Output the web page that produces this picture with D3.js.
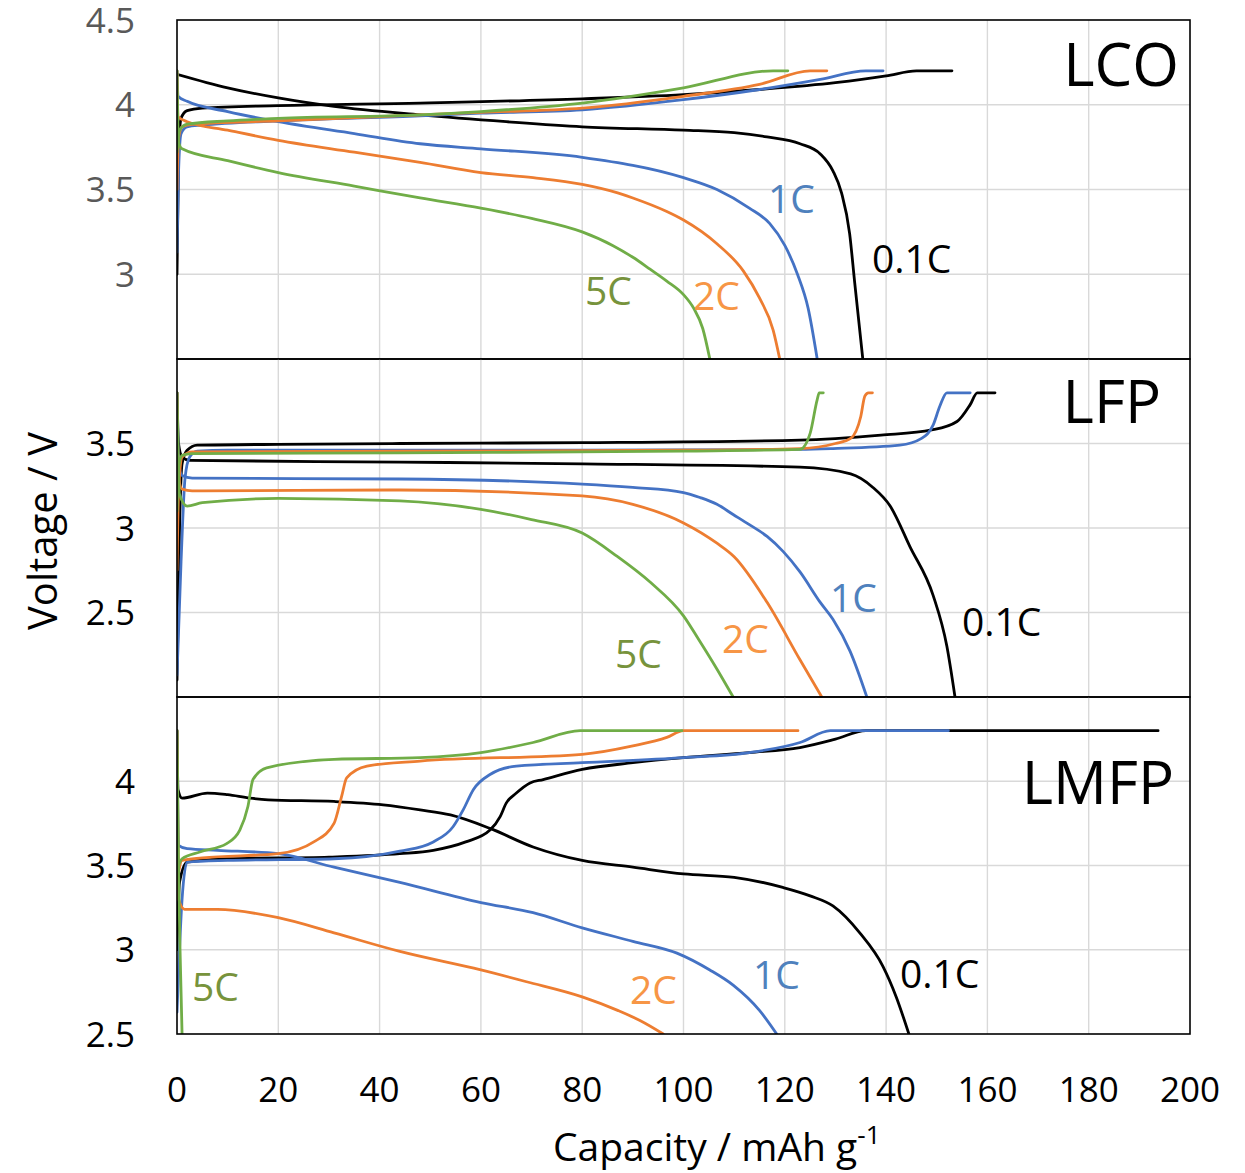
<!DOCTYPE html>
<html>
<head>
<meta charset="utf-8">
<script src="https://cdn.jsdelivr.net/npm/d3@7"></script>
<style>
  body { margin: 0; background: #fff; }
  text { font-family: "Open Sans", "Noto Sans", sans-serif; }
</style>
</head>
<body>
<div id="chart"></div>
<script>
// capacity (mAh/g), voltage (V)
const rates = ["0.1C", "1C", "2C", "5C"]
const lineColors = ["#000000", "#4472C4", "#ED7D31", "#70AD47"]
const labelColors = ["#000000", "#4F81BD", "#F79646", "#77933C"]
const xTicks = [0, 20, 40, 60, 80, 100, 120, 140, 160, 180, 200]

// LCO
const lco01Chg = [[0,3.0],[0.3,3.7],[0.8,3.92],[2,3.965],[5,3.98],[20,3.995],[48,4.01],[80,4.035],[100,4.06],[115,4.09],[130,4.13],[140,4.17],[146,4.2],[153,4.2]]
const lco01Dis = [[0,4.18],[10,4.1],[20,4.04],[31,3.99],[48,3.94],[65,3.9],[80,3.87],[100,3.85],[110,3.835],[116.5,3.81],[123,3.77],[127,3.71],[129.5,3.61],[131.2,3.48],[132.8,3.24],[133.8,2.95],[135.4,2.5]]
const lco1Chg = [[0,3.13],[0.3,3.6],[0.8,3.83],[2,3.87],[5,3.88],[20,3.905],[48,3.935],[60,3.95],[80,3.97],[100,4.03],[115,4.09],[127,4.15],[136,4.2],[139.4,4.2]]
const lco1Dis = [[0,4.2],[0.2,4.05],[2,4.02],[10,3.96],[20,3.9],[35,3.83],[48,3.77],[60,3.74],[80,3.69],[100,3.57],[106.6,3.5],[113,3.39],[117,3.3],[120,3.17],[122.5,3.0],[124.6,2.8],[126.4,2.5]]
const lco2Chg = [[0,3.5],[0.3,3.8],[1,3.87],[3,3.885],[20,3.905],[48,3.94],[60,3.955],[80,3.98],[100,4.05],[115,4.12],[125,4.2],[128.3,4.2]]
const lco2Dis = [[0,4.2],[0.2,3.93],[2,3.9],[10,3.85],[20,3.79],[35,3.72],[48,3.66],[60,3.6],[70.3,3.57],[80,3.53],[87,3.48],[90,3.45],[96.7,3.37],[100,3.32],[106.6,3.18],[111.8,3.02],[115,2.86],[117.7,2.67],[119,2.5]]
const lco5Chg = [[0,3.72],[0.5,3.85],[2,3.885],[10,3.905],[20,3.92],[48,3.94],[60,3.96],[80,4.01],[100,4.1],[117.7,4.2],[120.6,4.2]]
const lco5Dis = [[0,4.2],[0.3,3.78],[1,3.74],[10,3.67],[20,3.6],[35,3.52],[48,3.45],[60,3.39],[70,3.33],[80,3.25],[86,3.17],[90,3.1],[93.4,3.03],[96.7,2.96],[100,2.88],[102,2.8],[103.8,2.68],[105.2,2.5]]

// LFP
const lfp01Chg = [[0,2.1],[0.5,3.0],[1,3.38],[2,3.46],[4,3.49],[20,3.495],[44,3.5],[80,3.505],[123,3.52],[139,3.55],[149,3.58],[154,3.63],[156.6,3.73],[158,3.8],[161.5,3.8]]
const lfp01Dis = [[0,3.8],[0.3,3.5],[1,3.42],[2.5,3.4],[44,3.39],[80,3.38],[123,3.36],[133,3.32],[137.4,3.24],[140.8,3.13],[144.7,2.89],[149.3,2.6],[152,2.3],[153.6,2.0]]
const lfp1Chg = [[0,2.13],[0.8,2.8],[1.6,3.3],[2.5,3.42],[4,3.455],[10,3.46],[80,3.46],[123,3.465],[129.5,3.47],[142.7,3.49],[147,3.53],[149.3,3.61],[150.6,3.72],[152,3.8],[156.6,3.8]]
const lfp1Dis = [[0,3.8],[0.3,3.4],[1,3.31],[3,3.295],[44,3.29],[80,3.26],[90,3.24],[100,3.21],[103.3,3.18],[106.6,3.14],[109.8,3.08],[113,3.02],[116.5,2.95],[119.7,2.86],[123,2.74],[127,2.56],[129.5,2.46],[132.9,2.27],[136.2,2.0]]
const lfp2Chg = [[0,2.75],[0.3,3.2],[1,3.42],[3,3.45],[44,3.455],[100,3.46],[123,3.47],[130,3.5],[133,3.53],[135,3.66],[135.8,3.78],[136.5,3.8],[137.3,3.8]]
const lfp2Dis = [[0,3.8],[0.3,3.3],[1,3.23],[3,3.22],[44,3.225],[80,3.19],[90,3.14],[100,3.03],[106.6,2.91],[110,2.83],[116.5,2.56],[123,2.22],[127.3,2.0]]
const lfp5Chg = [[0,3.1],[0.3,3.35],[1,3.43],[3,3.44],[44,3.445],[100,3.455],[123,3.465],[125,3.56],[126.4,3.76],[126.8,3.8],[127.6,3.8]]
const lfp5Dis = [[0,3.8],[0.5,3.2],[2,3.13],[5,3.15],[20,3.175],[44,3.16],[60,3.11],[70,3.05],[80,2.97],[87,2.83],[93.4,2.68],[100,2.48],[103,2.34],[106.5,2.17],[109.8,2.0]]

// LMFP
const lmfp01Chg = [[0,3.0],[0.5,3.4],[2,3.52],[10,3.54],[30,3.55],[44,3.57],[50.6,3.59],[57,3.64],[61.8,3.71],[63.8,3.79],[65,3.87],[67,3.93],[69.7,3.99],[72.3,4.01],[80,4.07],[90,4.11],[100,4.14],[113,4.17],[123,4.2],[130,4.25],[136,4.3],[193.7,4.3]]
const lmfp01Dis = [[0,4.3],[0.2,3.95],[1,3.9],[6,3.93],[10,3.92],[14.4,3.9],[18,3.89],[31,3.88],[40.7,3.86],[48,3.83],[54,3.8],[61.8,3.72],[70.3,3.61],[80,3.53],[90,3.49],[100,3.45],[110,3.43],[119.6,3.37],[125,3.32],[129.5,3.26],[134.8,3.1],[139.4,2.9],[142,2.72],[144.5,2.5]]
const lmfp1Chg = [[0,2.63],[1,3.3],[2,3.52],[10,3.53],[31,3.54],[44,3.585],[50.6,3.64],[54.5,3.73],[56.5,3.83],[58.5,3.95],[61.8,4.04],[67,4.09],[80,4.11],[100,4.14],[113,4.17],[123,4.23],[129,4.3],[152.3,4.3]]
const lmfp1Dis = [[0,4.3],[0.3,3.62],[2,3.6],[8,3.59],[20,3.57],[31,3.49],[44,3.4],[60,3.28],[70.3,3.22],[80,3.13],[90,3.05],[98.7,2.98],[105.2,2.88],[109.8,2.79],[115,2.64],[118.4,2.5]]
const lmfp2Chg = [[0,3.4],[1,3.53],[5,3.545],[20,3.57],[27,3.64],[31,3.75],[32.5,3.91],[33.5,4.02],[37.5,4.09],[48,4.12],[80,4.16],[90,4.21],[96.7,4.26],[100,4.3],[122.6,4.3]]
const lmfp2Dis = [[0,4.3],[0.3,3.3],[1.5,3.24],[8,3.24],[20,3.19],[31,3.1],[44,2.99],[60,2.88],[69,2.81],[80,2.72],[87,2.64],[91.4,2.58],[96,2.5]]
const lmfp5Chg = [[0,3.47],[1,3.54],[4.5,3.58],[9.8,3.63],[12.4,3.71],[14,3.85],[15,4.01],[17.7,4.08],[31,4.13],[48,4.14],[60,4.17],[70.3,4.23],[79.6,4.3],[99.7,4.3]]
const lmfp5Dis = [[0,4.3],[0.3,3.5],[0.6,3.0],[1,2.5]]

const panels = [
  { name: "LCO", top: 20, bottom: 359, domain: [2.5, 4.5], grid: [3, 3.5, 4], ticks: [3, 3.5, 4, 4.5], tickColor: "#595959",
    series: [[lco01Chg, lco01Dis], [lco1Chg, lco1Dis], [lco2Chg, lco2Dis], [lco5Chg, lco5Dis]],
    title: [1179, 86],
    labels: [[872, 273], [768, 213], [693, 310], [585, 305]] },
  { name: "LFP", top: 359, bottom: 697, domain: [2.0, 4.0], grid: [2.5, 3, 3.5], ticks: [2.5, 3, 3.5], tickColor: "#000",
    series: [[lfp01Chg, lfp01Dis], [lfp1Chg, lfp1Dis], [lfp2Chg, lfp2Dis], [lfp5Chg, lfp5Dis]],
    title: [1161, 423],
    labels: [[962, 636], [830, 612], [722, 653], [615, 668]] },
  { name: "LMFP", top: 697, bottom: 1034, domain: [2.5, 4.5], grid: [3, 3.5, 4], ticks: [2.5, 3, 3.5, 4], tickColor: "#000",
    series: [[lmfp01Chg, lmfp01Dis], [lmfp1Chg, lmfp1Dis], [lmfp2Chg, lmfp2Dis], [lmfp5Chg, lmfp5Dis]],
    title: [1174, 804],
    labels: [[900, 988], [753, 989], [630, 1004], [192, 1001]] }
]

const width = 1245, height = 1173
const left = 177, right = 1190

const svg = d3.select("#chart").append("svg")
  .attr("width", width)
  .attr("height", height)

const x = d3.scaleLinear().domain([0, 200]).range([left, right])

panels.forEach(function (p, pi) {
  const y = d3.scaleLinear().domain(p.domain).range([p.bottom, p.top])
  const g = svg.append("g")

  g.append("clipPath").attr("id", "clip" + pi)
    .append("rect")
    .attr("x", left).attr("y", p.top)
    .attr("width", right - left).attr("height", p.bottom - p.top)

  // grid
  g.selectAll(".vg").data(xTicks.slice(1, -1)).enter().append("line")
    .attr("x1", d => x(d)).attr("x2", d => x(d))
    .attr("y1", p.top).attr("y2", p.bottom)
    .attr("stroke", "#d9d9d9").attr("stroke-width", 1.4)
  g.selectAll(".hg").data(p.grid).enter().append("line")
    .attr("x1", left).attr("x2", right)
    .attr("y1", d => y(d)).attr("y2", d => y(d))
    .attr("stroke", "#d9d9d9").attr("stroke-width", 1.4)

  // y tick labels
  g.selectAll(".yt").data(p.ticks).enter().append("text")
    .attr("x", 135).attr("y", d => y(d) + 12.5)
    .attr("text-anchor", "end")
    .attr("font-size", 35)
    .attr("fill", p.tickColor)
    .text(d => d)

  // curves
  const line = d3.line()
    .x(d => x(d[0]))
    .y(d => y(d[1]))
    .curve(d3.curveMonotoneX)

  const curves = g.append("g").attr("clip-path", "url(#clip" + pi + ")")
  p.series.forEach(function (pair, si) {
    pair.forEach(function (s) {
      curves.append("path")
        .attr("d", line(s))
        .attr("fill", "none")
        .attr("stroke", lineColors[si])
        .attr("stroke-width", 2.8)
        .attr("stroke-linejoin", "round")
        .attr("stroke-linecap", "round")
    })
  })

  // box
  g.append("rect")
    .attr("x", left).attr("y", p.top)
    .attr("width", right - left).attr("height", p.bottom - p.top)
    .attr("fill", "none")
    .attr("stroke", "#000")
    .attr("stroke-width", 1.6)

  // labels
  p.labels.forEach(function (l, i) {
    g.append("text")
      .attr("x", l[0]).attr("y", l[1])
      .attr("font-size", 39)
      .attr("fill", labelColors[i])
      .text(rates[i])
  })

  g.append("text")
    .attr("x", p.title[0]).attr("y", p.title[1])
    .attr("text-anchor", "end")
    .attr("font-size", 60)
    .attr("fill", "#000")
    .text(p.name)
})

// x tick labels
svg.selectAll(".xt").data(xTicks).enter().append("text")
  .attr("x", d => x(d)).attr("y", 1102)
  .attr("text-anchor", "middle")
  .attr("font-size", 35)
  .attr("fill", "#000")
  .text(d => d)

// axis titles
svg.append("text")
  .attr("transform", "translate(57,531) rotate(-90)")
  .attr("text-anchor", "middle")
  .attr("font-size", 40)
  .attr("fill", "#000")
  .text("Voltage / V")

const xt = svg.append("text")
  .attr("x", 553).attr("y", 1161)
  .attr("font-size", 39)
  .attr("fill", "#000")
xt.append("tspan").text("Capacity / mAh g")
xt.append("tspan").attr("font-size", 26).attr("dy", -17).text("-1")
</script>
</body>
</html>
